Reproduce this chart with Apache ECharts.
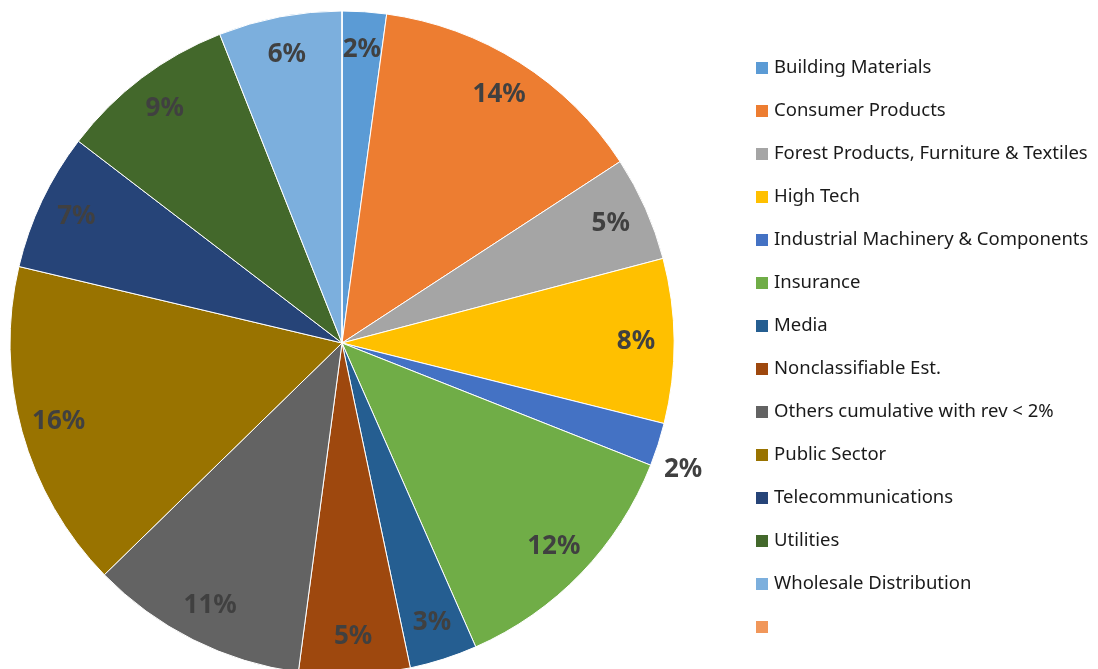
<!DOCTYPE html>
<html>
<head>
<meta charset="utf-8">
<script src="https://cdn.jsdelivr.net/npm/echarts@6/dist/echarts.min.js"></script>
<style>
  html, body { margin: 0; padding: 0; background: #fff; }
  #chart { width: 1098px; height: 669px; }
</style>
</head>
<body>
<div id="chart"></div>
<script>
  var categories = [
    'Building Materials',
    'Consumer Products',
    'Forest Products, Furniture & Textiles',
    'High Tech',
    'Industrial Machinery & Components',
    'Insurance',
    'Media',
    'Nonclassifiable Est.',
    'Others cumulative with rev < 2%',
    'Public Sector',
    'Telecommunications',
    'Utilities',
    'Wholesale Distribution',
    ' '
  ]
  var shares = [2.15, 13.65, 5.1, 8.0, 2.1, 12.4, 3.3, 5.4, 10.6, 16.0, 6.7, 8.6, 6.0, 0]
  var colors = ['#5B9BD5', '#ED7D31', '#A5A5A5', '#FFC000', '#4472C4', '#70AD47', '#255E91',
    '#9E480E', '#636363', '#997300', '#264478', '#43682B', '#7CAFDD', '#F1975A']

  var chart = echarts.init(document.getElementById('chart'))

  var sliceData = categories.map(function (name, i) {
    return { name: name, value: shares[i], itemStyle: { color: colors[i] } }
  })

  // second ring only carries the labels, so they sit near the rim like in excel
  var labelData = categories.map(function (name, i) {
    var item = { name: name, value: shares[i] }
    if (shares[i] === 0) {
      item.label = { show: false }
    }
    if (name === 'Industrial Machinery & Components') {
      item.label = { position: 'outside', offset: [-3, 24] }
      item.labelLine = { show: false, length: 4, length2: 0 }
    }
    return item
  })

  chart.setOption({
    animation: false,
    legend: {
      orient: 'vertical',
      left: 749,
      top: 53,
      icon: 'rect',
      itemWidth: 14,
      itemHeight: 14,
      itemGap: 23,
      selectedMode: false,
      data: categories,
      textStyle: {
        fontFamily: 'Noto Sans',
        fontSize: 18.5,
        lineHeight: 20,
        color: '#1a1a1a'
      }
    },
    series: [{
      type: 'pie',
      center: [342, 343],
      radius: 332,
      startAngle: 90,
      clockwise: true,
      silent: true,
      percentPrecision: 0,
      itemStyle: { borderColor: '#fff', borderWidth: 1 },
      label: { show: false },
      labelLine: { show: false },
      data: sliceData
    }, {
      type: 'pie',
      center: [342, 343],
      radius: [250, 332],
      startAngle: 90,
      clockwise: true,
      silent: true,
      percentPrecision: 0,
      itemStyle: { color: 'transparent', borderWidth: 0 },
      label: {
        show: true,
        position: 'inside',
        formatter: '{d}%',
        fontFamily: 'Noto Sans',
        fontWeight: 'bold',
        fontSize: 26,
        color: '#404040'
      },
      labelLine: { show: false },
      data: labelData
    }]
  })
</script>
</body>
</html>
